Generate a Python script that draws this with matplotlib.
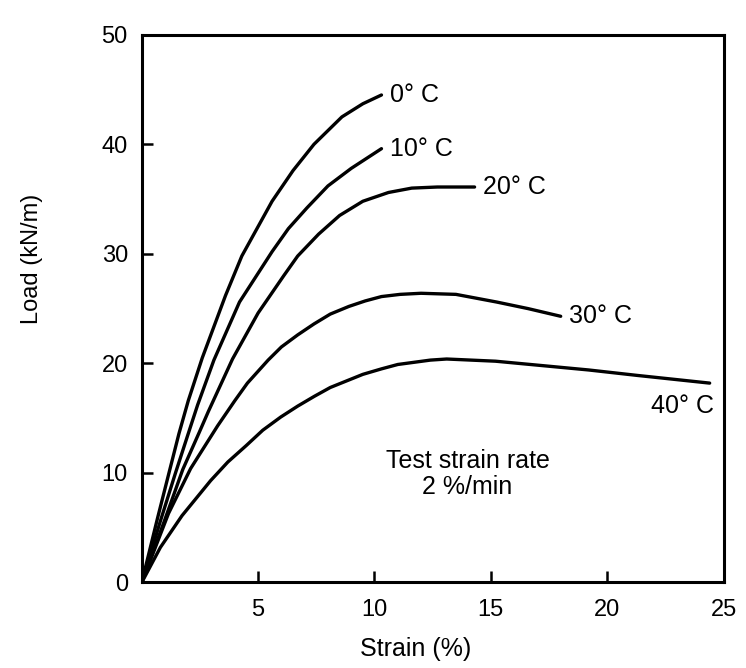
import matplotlib.pyplot as plt

plt.rcParams['font.family'] = ['Liberation Sans', 'DejaVu Sans']

# load-strain curves (strain %, load kN/m)
strain_0 = [0, 0.67, 1.17, 1.6, 2.0, 2.6, 3.6, 4.3, 5.6, 6.5, 7.4, 8.6, 9.5, 10.3]
load_0 = [0, 5.8, 10.0, 13.6, 16.6, 20.5, 26.2, 29.8, 34.8, 37.6, 40.0, 42.5, 43.7, 44.5]

strain_10 = [0, 0.8, 1.45, 2.0, 2.4, 3.1, 4.2, 5.6, 6.3, 7.1, 8.0, 9.0, 10.3]
load_10 = [0, 5.6, 10.0, 13.6, 16.2, 20.3, 25.6, 30.2, 32.3, 34.2, 36.2, 37.8, 39.6]

strain_20 = [0, 0.97, 1.76, 2.47, 2.86, 3.9, 5.0, 6.1, 6.7, 7.6, 8.5, 9.5, 10.6, 11.6, 12.7, 14.3]
load_20 = [0, 5.6, 10.3, 13.7, 15.6, 20.4, 24.6, 28.0, 29.8, 31.8, 33.5, 34.8, 35.6, 36.0, 36.1, 36.1]

strain_30 = [0, 1.15, 2.1, 3.26, 4.0, 4.54, 5.43, 6.0, 6.7, 7.4, 8.1, 8.9, 9.6, 10.3,
             11.1, 12.0, 13.5, 15.25, 16.6, 18.0]
load_30 = [0, 6.3, 10.4, 14.3, 16.6, 18.2, 20.3, 21.5, 22.6, 23.6, 24.5, 25.2, 25.7, 26.1,
           26.3, 26.4, 26.3, 25.6, 25.0, 24.3]

strain_40 = [0, 0.8, 1.73, 2.96, 3.7, 4.49, 5.2, 5.97, 6.7, 7.42, 8.1, 8.8, 9.5, 10.3,
             11.0, 11.7, 12.4, 13.1, 15.2, 17.2, 19.2, 21.3, 24.4]
load_40 = [0, 3.2, 6.1, 9.3, 11.0, 12.5, 13.9, 15.1, 16.1, 17.0, 17.8, 18.4, 19.0, 19.5,
           19.9, 20.1, 20.3, 20.4, 20.2, 19.8, 19.4, 18.9, 18.2]

curves = [(strain_0, load_0, "0° C"),
          (strain_10, load_10, "10° C"),
          (strain_20, load_20, "20° C"),
          (strain_30, load_30, "30° C"),
          (strain_40, load_40, "40° C")]

xticks = [0, 5, 10, 15, 20, 25]
yticks = [0, 10, 20, 30, 40, 50]

fig = plt.figure(figsize=(7.46, 6.68), dpi=100)
ax = fig.add_axes([0.19, 0.128, 0.78, 0.82])

for xs, ys, name in curves:
    ax.plot(xs, ys, color='black', lw=2.4, solid_capstyle='round', solid_joinstyle='round')
    if name == "40° C":
        ax.annotate(name, (xs[-1], ys[-1]), xytext=(3, -8), textcoords='offset points',
                    ha='right', va='top', fontsize=18)
    else:
        ax.annotate(name, (xs[-1], ys[-1]), xytext=(6, 0), textcoords='offset points',
                    ha='left', va='center', fontsize=18)

ax.text(14, 9.9, "Test strain rate\n2 %/min", ha='center', va='center',
        fontsize=18, linespacing=1.15)

ax.set_xlim(0, 25)
ax.set_ylim(0, 50)
ax.set_xticks(xticks)
ax.set_xticklabels([''] + [str(t) for t in xticks[1:]])
ax.set_yticks(yticks)
ax.tick_params(direction='in', length=8, width=1.8, labelsize=17)
ax.tick_params(axis='x', pad=12)
ax.tick_params(axis='y', pad=10)
for s in ax.spines.values():
    s.set_linewidth(2.2)

ax.set_xlabel("Strain (%)", fontsize=18)
ax.set_ylabel("Load (kN/m)", fontsize=17)
ax.xaxis.set_label_coords(0.47, -0.1)
ax.yaxis.set_label_coords(-0.17, 0.59)

fig.savefig("out.png", dpi=100)
